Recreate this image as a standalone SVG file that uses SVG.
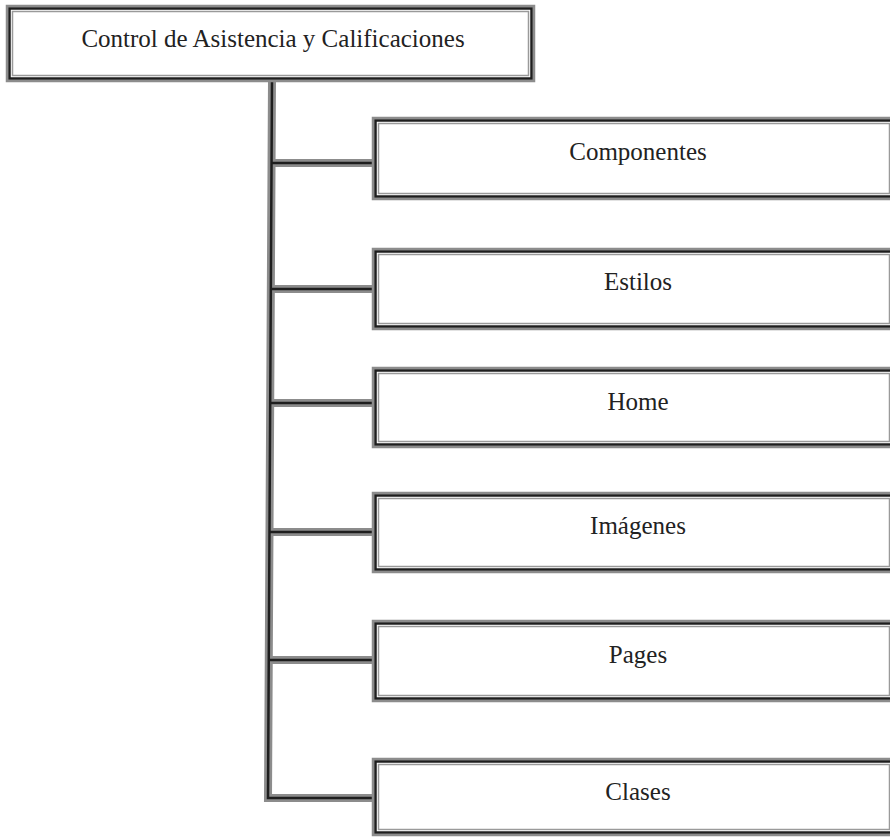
<svg xmlns="http://www.w3.org/2000/svg" width="890" height="837" viewBox="0 0 890 837">
<style>
.o{fill:#fff;stroke:#8c8c8c;stroke-width:2.5}
.d{fill:none;stroke:#1e1e1e;stroke-width:2.5}
.i{fill:none;stroke:#9a9a9a;stroke-width:1.5}
.cg{fill:none;stroke:#8c8c8c;stroke-width:8;stroke-linejoin:miter}
.cd{fill:none;stroke:#1e1e1e;stroke-width:2.5;stroke-linejoin:miter}
text{font-family:"Liberation Serif","Times New Roman",serif;font-size:25px;fill:#222;text-anchor:middle}
</style>
<rect width="890" height="837" fill="#fff"/>
<g id="connectors">
<path class="cg" d="M272,80 L268,798 L374,798 M271.5,163 H374 M271,289 H374 M270.5,403 H374 M270,532 H374 M269.5,660 H374"/>
<path class="cd" d="M272,80 L268,798 L374,798 M271.5,163 H374 M271,289 H374 M270.5,403 H374 M270,532 H374 M269.5,660 H374"/>
</g>
<g id="root">
<rect class="o" x="7" y="6" width="527" height="75"/>
<rect class="d" x="9.5" y="8.5" width="522" height="70"/>
<rect class="i" x="12.5" y="11.5" width="516" height="64"/>
<text x="273" y="47">Control de Asistencia y Calificaciones</text>
</g>
<g id="componentes">
<rect class="o" x="373" y="118" width="523" height="81"/>
<rect class="d" x="375.5" y="120.5" width="518" height="76"/>
<rect class="i" x="378.5" y="123.5" width="511" height="70"/>
<text x="638" y="160">Componentes</text>
</g>
<g id="estilos">
<rect class="o" x="373" y="249" width="523" height="80"/>
<rect class="d" x="375.5" y="251.5" width="518" height="75"/>
<rect class="i" x="378.5" y="254.5" width="511" height="69"/>
<text x="638" y="290">Estilos</text>
</g>
<g id="home">
<rect class="o" x="373" y="368" width="523" height="79"/>
<rect class="d" x="375.5" y="370.5" width="518" height="74"/>
<rect class="i" x="378.5" y="373.5" width="511" height="68"/>
<text x="638" y="410">Home</text>
</g>
<g id="imagenes">
<rect class="o" x="373" y="493" width="523" height="79"/>
<rect class="d" x="375.5" y="495.5" width="518" height="74"/>
<rect class="i" x="378.5" y="498.5" width="511" height="68"/>
<text x="638" y="534">Imágenes</text>
</g>
<g id="pages">
<rect class="o" x="373" y="621" width="523" height="80"/>
<rect class="d" x="375.5" y="623.5" width="518" height="75"/>
<rect class="i" x="378.5" y="626.5" width="511" height="69"/>
<text x="638" y="663">Pages</text>
</g>
<g id="clases">
<rect class="o" x="373" y="759" width="523" height="76"/>
<rect class="d" x="375.5" y="761.5" width="518" height="71"/>
<rect class="i" x="378.5" y="764.5" width="511" height="65"/>
<text x="638" y="800">Clases</text>
</g>
</svg>
